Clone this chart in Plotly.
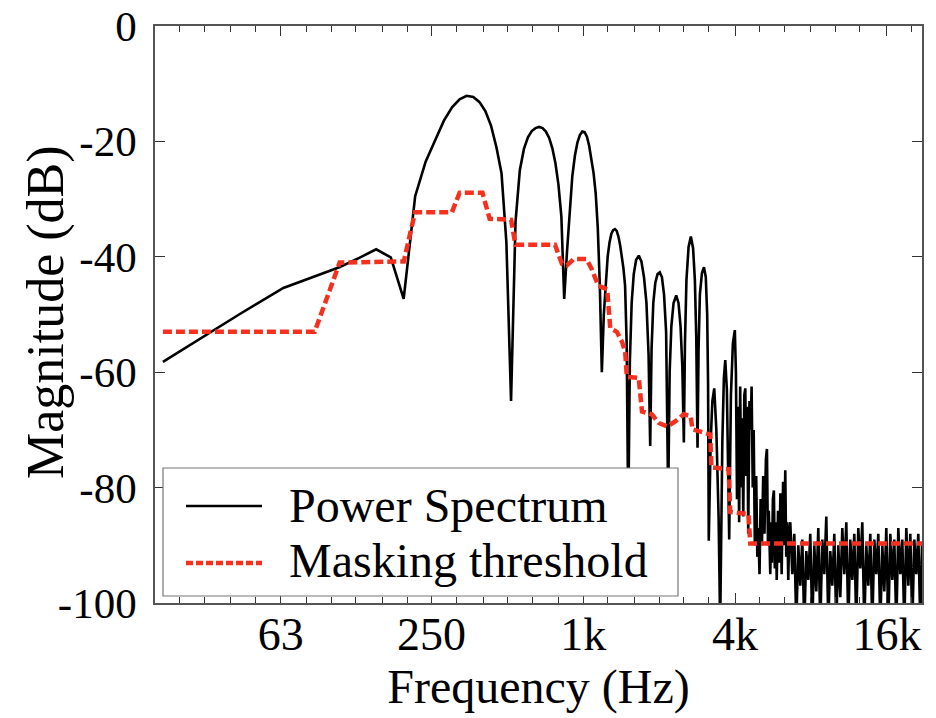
import plotly.graph_objects as go

# ---------------- data ----------------
# Power spectrum (Hz, dB)
ps_freq = [
    21.5, 43.1, 64.6, 86.1, 107.7, 129.2, 150.7, 172.3, 193.8, 215.3,
    236.9, 258.4, 279.9, 301.5, 323.0, 344.5, 366.1, 387.6, 409.1, 430.7,
    452.2, 473.7, 495.3, 516.8, 538.3, 559.9, 581.4, 602.9, 624.5, 646.0,
    667.5, 689.1, 710.6, 732.1, 753.7, 775.2, 796.7, 818.3, 839.8, 861.3,
    882.9, 904.4, 925.9, 947.5, 969.0, 990.5, 1012.1, 1033.6, 1055.1, 1076.7,
    1098.2, 1119.7, 1141.3, 1162.8, 1184.3, 1205.9, 1227.4, 1248.9, 1270.5, 1292.0,
    1313.5, 1335.1, 1356.6, 1378.1, 1399.7, 1421.2, 1442.7, 1464.3, 1485.8, 1507.3,
    1530, 1555, 1585, 1620, 1660, 1700, 1740, 1780, 1815, 1842,
    1865, 1895, 1930, 1970, 2010, 2050, 2090, 2130, 2171,
    2200, 2235, 2280, 2336, 2385, 2430, 2470, 2505,
    2530, 2565, 2615, 2670, 2725, 2770, 2805, 2838,
    2865, 2900, 2955, 3010, 3060, 3100, 3125, 3145,
    3200, 3250, 3306, 3370, 3440, 3490, 3560, 3610, 3656, 3710,
    3790, 3850, 3920, 3990, 4030, 4070, 4110, 4150, 4190, 4230,
    4270, 4310, 4350, 4390, 4430, 4470, 4510, 4560, 4610, 4650,
    4700, 4740, 4790, 4850, 4900, 4942, 5000, 5050, 5110, 5170,
    5230, 5300, 5350, 5400, 5440, 5515, 5560, 5600, 5650, 5700,
    5750, 5800, 5850, 5920, 5980, 6050, 6120, 6200, 6260, 6325,
    6380, 6440, 6500, 6560, 6622,
    6744, 6868, 6995, 7124, 7255, 7389, 7525, 7664, 7805, 7949,
    8096, 8245, 8397, 8552, 8710, 8870, 9034, 9200, 9370, 9543,
    9719, 9898, 10080, 10266, 10455, 10648, 10844, 11044, 11248, 11455,
    11666, 11881, 12100, 12323, 12551, 12782, 13018, 13258, 13502, 13751,
    14005, 14263, 14526, 14794, 15067, 15345, 15628, 15916, 16209, 16508,
    16813, 17123, 17438, 17760, 18087, 18421, 18760, 19106, 19459, 19818,
    20183, 20555, 20934, 21320, 21713, 22050,
]
ps_db = [
    -58.2, -50.0, -45.4, -43.3, -41.8, -40.2, -38.7, -40.1, -47.3, -29.5,
    -23.5, -19.8, -16.4, -14.1, -12.7, -12.1, -12.3, -13.2, -14.8, -17.3,
    -21.0, -25.5, -37.5, -65.0, -34.0, -25.0, -21.3, -19.3, -18.2, -17.7,
    -17.5, -17.7, -18.3, -19.4, -21.2, -23.8, -27.5, -33.0, -47.3, -39.2,
    -31.5, -26.0, -22.5, -20.2, -18.9, -18.3, -18.4, -19.2, -20.8, -23.0,
    -25.5, -29.0, -35.0, -45.0, -60.0, -50.0, -44.0, -40.0, -37.5, -36.0,
    -35.4, -35.2, -35.5, -36.5, -38.0, -40.0, -42.0, -45.0, -55.0, -85.0,
    -58, -48, -43, -40.5, -39.8, -40.8, -43.5, -48, -57, -72.8,
    -56, -48, -44.5, -43, -42.7, -43.5, -46.5, -53, -82,
    -60, -52, -48, -46.7, -48, -52, -59, -72.2,
    -55, -44, -38.3, -36.5, -38.5, -44, -54, -73.1,
    -56, -46.5, -42.8, -41.8, -43.5, -50, -62, -89.2,
    -72, -65, -62.8, -70, -85, -104, -72, -61, -57.9, -63,
    -89, -64, -55, -52.7, -60, -82, -66, -86, -62.5, -80,
    -68, -85, -64, -62.8, -78, -66, -88, -65, -70, -62.5,
    -80, -70, -90, -78, -92, -87, -95, -82, -90, -78,
    -88, -75, -73.3, -90, -84, -95, -86, -93, -82, -80.5,
    -94, -86, -96, -84, -93, -81, -95, -79, -90, -77,
    -92, -86, -96, -88, -86,
    -95, -88, -104, -90, -97, -89, -104, -91, -96, -88,
    -104, -90, -98, -87, -104, -89, -95, -85, -104, -91,
    -97, -88, -104, -90, -99, -87, -95, -86, -104, -89,
    -96, -88, -104, -87, -94, -86, -104, -90, -97, -88,
    -104, -89, -95, -88, -104, -90, -98, -87, -104, -88,
    -96, -89, -104, -87, -95, -89, -104, -87, -97, -88,
    -104, -89, -95, -88, -104, -90,
]

# Masking threshold (Hz, dB)
mt_freq = [
    21.5, 86, 108, 194, 215, 301, 323, 398, 425, 517,
    538, 772, 822, 860, 916, 1030, 1079, 1146, 1243, 1262,
    1279, 1358, 1423, 1466, 1488, 1659, 1684, 1709, 1870, 1992,
    2154, 2322, 2502, 2665, 2709, 3188, 3221, 3772, 3826, 4520,
    4594, 22050,
]
mt_db = [
    -53.0, -53.0, -41.0, -40.8, -32.3, -32.3, -28.9, -28.9, -33.4, -33.6,
    -37.9, -37.9, -41.2, -41.5, -40.4, -40.4, -42.1, -45.0, -45.6, -49.0,
    -52.4, -53.0, -54.7, -56.5, -60.8, -61.0, -63.3, -66.8, -67.3, -68.8,
    -69.4, -68.5, -67.3, -67.6, -69.9, -70.8, -76.5, -76.8, -84.2, -84.6,
    -89.7, -89.7,
]

x_tickvals = [63, 250, 1000, 4000, 16000]
x_ticktext = ["63", "250", "1k", "4k", "16k"]
x_minor = [25, 31.5, 40, 50, 80, 100, 125, 160, 200, 315, 400, 500, 630, 800,
           1250, 1600, 2000, 2500, 3150, 5000, 6300, 8000, 10000, 12500, 20000]
y_tickvals = [0, -20, -40, -60, -80, -100]
y_ticktext = ["0", "-20", "-40", "-60", "-80", "-100"]

series_names = ["Power Spectrum", "Masking threshold"]

# ---------------- figure ----------------
FONT = "Liberation Serif, Times New Roman, serif"
BLACK = "#000000"
RED = "#f5301e"

fig = go.Figure()
fig.add_trace(go.Scatter(x=ps_freq, y=ps_db, mode="lines", name=series_names[0],
                         line=dict(color=BLACK, width=2.6), showlegend=False))
fig.add_trace(go.Scatter(x=mt_freq, y=mt_db, mode="lines", name=series_names[1],
                         line=dict(color=RED, width=4.5, dash="9px,4px"), showlegend=False))

W, H = 936, 718
L, R, T, B = 155, 14, 26, 115
pw, ph = W - L - R, H - T - B

def px(xp):
    return (xp - L) / pw

def py(yp):
    return (H - B - yp) / ph

# custom legend (box, samples, labels)
shapes = [
    dict(type="rect", xref="paper", yref="paper", x0=px(163), x1=px(678), y0=py(596), y1=py(468),
         fillcolor="white", line=dict(color="#777777", width=1.2), layer="above"),
    dict(type="line", xref="paper", yref="paper", x0=px(186), x1=px(262), y0=py(506), y1=py(506),
         line=dict(color=BLACK, width=2.5), layer="above"),
    dict(type="line", xref="paper", yref="paper", x0=px(186), x1=px(262), y0=py(563), y1=py(563),
         line=dict(color=RED, width=4.5, dash="7px,3px"), layer="above"),
]
annotations = [
    dict(text=series_names[0], xref="paper", yref="paper", x=px(287), y=py(505),
         xanchor="left", yanchor="middle", showarrow=False, font=dict(family=FONT, size=48, color=BLACK)),
    dict(text=series_names[1], xref="paper", yref="paper", x=px(287), y=py(560),
         xanchor="left", yanchor="middle", showarrow=False, font=dict(family=FONT, size=48, color=BLACK)),
    dict(text="Magnitude (dB)", xref="paper", yref="paper", x=px(46), y=py(312),
         xanchor="center", yanchor="middle", textangle=-90, showarrow=False,
         font=dict(family=FONT, size=52, color=BLACK)),
]

fig.update_layout(
    width=W, height=H,
    margin=dict(l=L, r=R, t=T, b=B, autoexpand=False),
    paper_bgcolor="white", plot_bgcolor="white",
    font=dict(family=FONT, color=BLACK),
    shapes=shapes, annotations=annotations,
    showlegend=False,
)
fig.update_xaxes(
    type="log", range=[1.30103, 4.34341],
    tickmode="array", tickvals=x_tickvals, ticktext=x_ticktext,
    ticks="inside", ticklen=10, tickwidth=1.2, tickcolor="#333",
    minor=dict(ticks="inside", ticklen=6, tickmode="array", tickvals=x_minor,
               tickcolor="#333", tickwidth=1),
    showline=True, linecolor="#555", linewidth=1.5, mirror="allticks",
    showgrid=False, zeroline=False,
    tickfont=dict(family=FONT, size=46, color=BLACK),
    ticklabelstandoff=-10, ticklabeloverflow="allow",
    title=dict(text="Frequency (Hz)", font=dict(family=FONT, size=48, color=BLACK), standoff=0),
    automargin=False,
)
fig.update_yaxes(
    range=[-100, 0], tickmode="array", tickvals=y_tickvals, ticktext=y_ticktext,
    ticks="inside", ticklen=10, tickwidth=1.2, tickcolor="#333",
    showline=True, linecolor="#555", linewidth=1.5, mirror="allticks",
    showgrid=False, zeroline=False,
    tickfont=dict(family=FONT, size=43, color=BLACK),
    ticklabelstandoff=8, ticklabeloverflow="allow",
    automargin=False,
)

fig.write_html("out.html")
